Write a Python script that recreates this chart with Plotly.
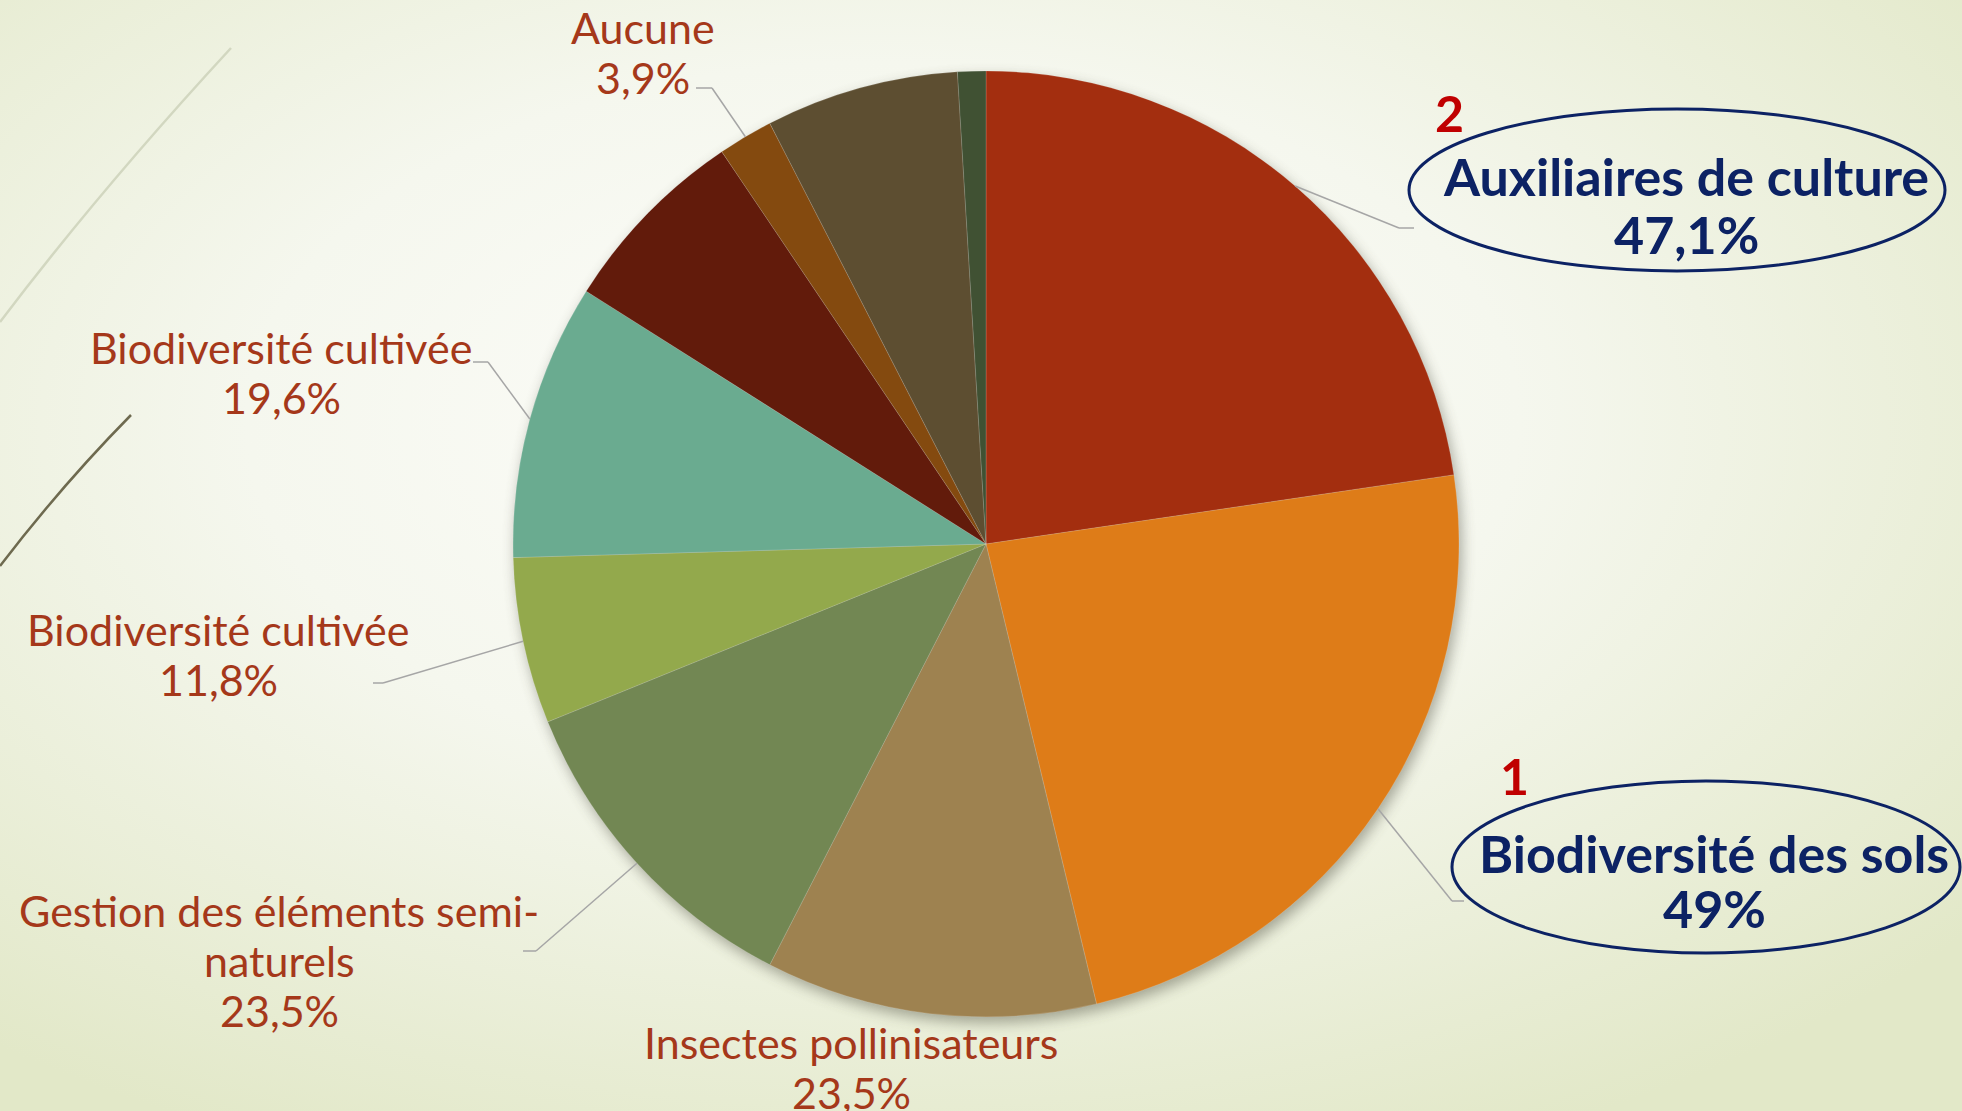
import base64
import math
import plotly.graph_objects as go

# slices clockwise from 12 o'clock (% of respondents, several answers possible)
categories = ["Auxiliaires de culture", "Biodiversité des sols", "Insectes pollinisateurs",
              "Gestion des éléments semi-|naturels", "Biodiversité cultivée", "Biodiversité cultivée",
              "", "Aucune", "", ""]
pcts = [47.1, 49.0, 23.5, 23.5, 11.8, 19.6, 13.7, 3.9, 13.7, 2.0]
colors = ["#A32E0F", "#DE7C18", "#9E8250", "#728753", "#93A94C",
          "#6AAB90", "#621B0B", "#844A0F", "#5D4E31", "#405133"]
ranks = {0: "2", 1: "1"}

W, H = 1962, 1111
CX, CY, R = 986, 544, 473   # pie centre / radius in pixels

def fmt(v):
    s = f"{v:.1f}".rstrip("0").rstrip(".")
    return s.replace(".", ",") + "%"

def px(x):
    return x / W

def py(y):
    return 1 - y / H

total = sum(pcts)
mid_angles = []
acc = 0
for v in pcts:
    mid_angles.append((acc + v / 2) / total * 2 * math.pi)
    acc += v

fig = go.Figure(go.Pie(
    values=pcts,
    labels=[f"s{i}" for i in range(len(pcts))],
    hovertext=[c.replace("|", "") for c in categories],
    hoverinfo="text",
    sort=False,
    direction="clockwise",
    rotation=0,
    textinfo="none",
    marker=dict(colors=colors, line=dict(color="rgba(255,255,255,0.25)", width=0.6)),
    domain=dict(x=[px(CX - R), px(CX + R)], y=[py(CY + R), py(CY - R)]),
    showlegend=False,
))

label_col = "#A5381A"
navy = "#0C2264"

# (text centre x, first line y, line step, elbow x, end x, leader y) in pixels
placements = {
    0: (1686, 176, 58, 1399, 1414, 228),
    1: (1714, 853, 55, 1452, 1464, 901),
    2: (851, 1042, 50, None, None, None),
    3: (279, 910, 50, 536, 523, 951),
    4: (218, 629, 50, 383, 373, 683),
    5: (281, 347, 50, 488, 473, 362),
    7: (643, 28, 50, 712, 696, 88),
}

shapes = []
annotations = []
for i, (tx, ty, step, ex, endx, ly) in placements.items():
    a = mid_angles[i]
    sx, sy = CX + R * math.sin(a), CY - R * math.cos(a)
    if ex is not None:
        shapes.append(dict(type="line", xref="paper", yref="paper", x0=px(sx), y0=py(sy),
                           x1=px(ex), y1=py(ly), line=dict(color="#A6A6A6", width=1.5)))
        shapes.append(dict(type="line", xref="paper", yref="paper", x0=px(ex), y0=py(ly),
                           x1=px(endx), y1=py(ly), line=dict(color="#A6A6A6", width=1.5)))
    lines = categories[i].split("|") + [fmt(pcts[i])]
    for k, line in enumerate(lines):
        if i in ranks:
            txt = f"<b>{line}</b>"
            font = dict(family="Lato", size=52, color=navy)
        else:
            txt = line
            font = dict(family="Lato", size=43, color=label_col)
        annotations.append(dict(x=px(tx), y=py(ty + k * step), xref="paper", yref="paper",
                                showarrow=False, xanchor="center", yanchor="middle",
                                text=txt, font=font))

# ellipses and rank numbers
ellipses = {0: (1677, 190, 268, 81, 1449, 113), 1: (1706, 867, 254, 86, 1514, 776)}
for i, (ecx, ecy, rx, ry, nx, ny) in ellipses.items():
    shapes.append(dict(type="circle", xref="paper", yref="paper",
                       x0=px(ecx - rx), x1=px(ecx + rx), y0=py(ecy + ry), y1=py(ecy - ry),
                       line=dict(color=navy, width=3)))
    annotations.append(dict(x=px(nx), y=py(ny), xref="paper", yref="paper", showarrow=False,
                            xanchor="center", yanchor="middle", text=f"<b>{ranks[i]}</b>",
                            font=dict(family="Lato", size=50, color="#C00000")))

# slide background: soft gradient, theme curves, pie shadow
svg = f'''<svg xmlns="http://www.w3.org/2000/svg" width="{W}" height="{H}" viewBox="0 0 {W} {H}">
<defs>
<radialGradient id="g" cx="0.45" cy="0.38" r="0.72">
<stop offset="0" stop-color="#FDFDFA"/><stop offset="0.45" stop-color="#F5F7EE"/><stop offset="1" stop-color="#E2E8C8"/>
</radialGradient>
<filter id="b" x="-20%" y="-20%" width="140%" height="140%"><feGaussianBlur stdDeviation="7"/></filter>
</defs>
<rect width="{W}" height="{H}" fill="url(#g)"/>
<path d="M 231 48 Q 100 190 0 322" stroke="#D2D7C0" stroke-width="2.5" fill="none"/>
<path d="M 131 415 Q 62 485 0 566" stroke="#6E6A4F" stroke-width="2.5" fill="none"/>
<circle cx="{CX + 3}" cy="{CY + 6}" r="{R}" fill="#4a4a3a" opacity="0.45" filter="url(#b)"/>
</svg>'''
src = "data:image/svg+xml;base64," + base64.b64encode(svg.encode()).decode()

fig.update_layout(
    width=W, height=H,
    margin=dict(l=0, r=0, t=0, b=0),
    paper_bgcolor="#F4F6EC",
    plot_bgcolor="rgba(0,0,0,0)",
    images=[dict(source=src, xref="paper", yref="paper", x=0, y=1, sizex=1, sizey=1,
                 xanchor="left", yanchor="top", sizing="stretch", layer="below")],
    shapes=shapes,
    annotations=annotations,
)

# drop the page's default body margin so the slide fills the window
fig.write_html("out.html", config={"displayModeBar": False},
               post_script="document.body.style.margin='0';")
